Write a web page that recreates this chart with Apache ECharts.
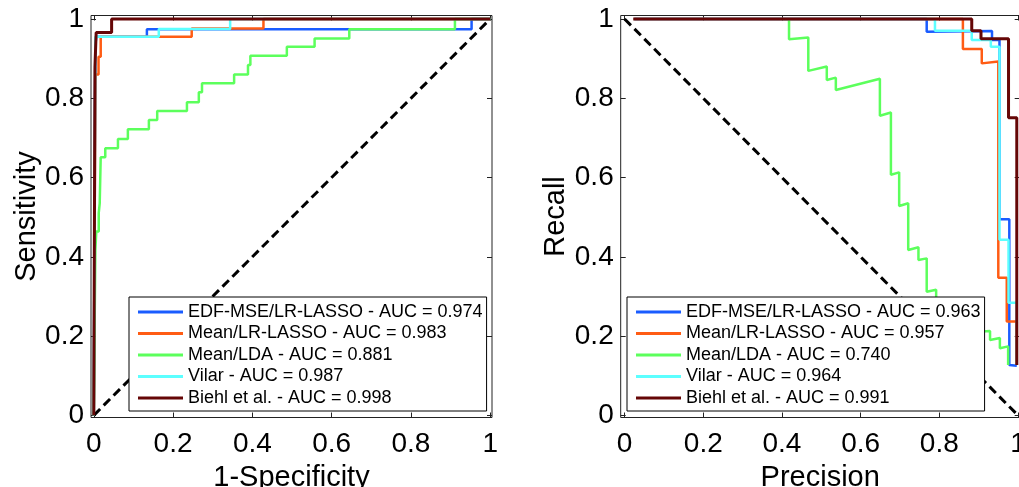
<!DOCTYPE html>
<html>
<head>
<meta charset="utf-8">
<script src="https://cdn.jsdelivr.net/npm/echarts@6/dist/echarts.min.js"></script>
<style>
  html, body { margin: 0; padding: 0; background: #fff; }
  #chart { width: 1019px; height: 487px; }
</style>
</head>
<body>
<div id="chart"></div>
<script>
// method names and AUCs
const methods = ["EDF-MSE/LR-LASSO", "Mean/LR-LASSO", "Mean/LDA", "Vilar", "Biehl et al."];
const rocAuc = ["0.974", "0.983", "0.881", "0.987", "0.998"];
const prAuc = ["0.963", "0.957", "0.740", "0.964", "0.991"];
const colors = ["#1a5cff", "#ff5c14", "#5cff5c", "#5cffff", "#650606"];

const tickValues = [0, 0.2, 0.4, 0.6, 0.8, 1];

// ROC curves: [1-specificity, sensitivity]
const rocEdf = [[0, 0], [0.003, 0], [0.003, 0.78], [0.004, 0.78], [0.004, 0.93], [0.006, 0.93], [0.006, 0.955],
  [0.134, 0.955], [0.134, 0.974], [0.953, 0.974], [0.953, 1], [1, 1]];
const rocMean = [[0, 0], [0.004, 0], [0.004, 0.86], [0.012, 0.86], [0.012, 0.905], [0.0175, 0.905], [0.0175, 0.955],
  [0.247, 0.955], [0.247, 0.976], [0.428, 0.976], [0.428, 1], [1, 1]];
const rocLda = [[0, 0], [0.004, 0], [0.004, 0.417], [0.0064, 0.417], [0.0064, 0.464], [0.0125, 0.464], [0.0125, 0.51],
  [0.015, 0.51], [0.015, 0.535], [0.0175, 0.535], [0.0175, 0.651], [0.029, 0.651], [0.029, 0.674], [0.061, 0.674],
  [0.061, 0.697], [0.086, 0.697], [0.086, 0.722], [0.139, 0.722], [0.139, 0.745], [0.16, 0.745], [0.16, 0.768],
  [0.235, 0.768], [0.235, 0.79], [0.265, 0.79], [0.265, 0.815], [0.273, 0.815], [0.273, 0.838], [0.354, 0.838],
  [0.354, 0.86], [0.389, 0.86], [0.389, 0.884], [0.395, 0.884], [0.395, 0.907], [0.487, 0.907], [0.487, 0.93],
  [0.557, 0.93], [0.557, 0.951], [0.6445, 0.951], [0.6445, 0.974], [0.911, 0.974], [0.911, 1], [1, 1]];
const rocVilar = [[0, 0], [0.004, 0], [0.004, 0.955], [0.164, 0.955], [0.164, 0.975], [0.344, 0.975], [0.344, 1], [1, 1]];
const rocBiehl = [[0, 0], [0.003, 0], [0.003, 0.88], [0.006, 0.88], [0.006, 0.966], [0.045, 0.966], [0.045, 1], [1, 1]];

// PR curves: [precision, recall]
const prEdf = [[0.025, 1], [0.768, 1], [0.768, 0.968], [0.934, 0.97], [0.934, 0.947], [0.953, 0.947], [0.953, 0.495],
  [0.978, 0.495], [0.978, 0.127], [0.997, 0.125]];
const prMean = [[0.025, 1], [0.86, 1], [0.86, 0.924], [0.908, 0.924], [0.908, 0.888], [0.95, 0.893], [0.95, 0.347],
  [0.9715, 0.347], [0.9715, 0.237], [0.997, 0.237], [0.997, 0.127]];
const prLda = [[0.418, 1], [0.418, 0.949], [0.467, 0.953], [0.467, 0.869], [0.514, 0.88], [0.514, 0.846],
  [0.537, 0.852], [0.537, 0.821], [0.649, 0.849], [0.649, 0.756], [0.677, 0.764], [0.677, 0.607], [0.698, 0.613],
  [0.698, 0.528], [0.721, 0.535], [0.721, 0.417], [0.747, 0.424], [0.747, 0.392], [0.768, 0.396], [0.768, 0.312],
  [0.792, 0.317], [0.792, 0.266], [0.815, 0.272], [0.815, 0.245], [0.86, 0.252], [0.86, 0.225], [0.9, 0.232],
  [0.9, 0.211], [0.929, 0.213], [0.929, 0.19], [0.954, 0.195], [0.954, 0.169], [0.975, 0.174], [0.975, 0.127]];
const prVilar = [[0.025, 1], [0.789, 1], [0.789, 0.9705], [0.8825, 0.9705], [0.8825, 0.947], [0.931, 0.947],
  [0.931, 0.93], [0.953, 0.93], [0.953, 0.443], [0.976, 0.443], [0.976, 0.284], [0.997, 0.284], [0.997, 0.127]];
const prBiehl = [[0.022, 1], [0.8825, 1], [0.8825, 0.9705], [0.906, 0.9705], [0.906, 0.95], [0.976, 0.95],
  [0.976, 0.751], [0.997, 0.751], [0.997, 0.127]];

const rocDiag = [[0, 0], [1, 1]];
const prDiag = [[0, 1], [1, 0]];

const rocCurves = [rocEdf, rocMean, rocLda, rocVilar, rocBiehl];
const prCurves = [prEdf, prMean, prLda, prVilar, prBiehl];

const font = "'Liberation Sans', Arial, Helvetica, sans-serif";

function valueAxis(gridIndex, position, min, max, name, nameGap, showLabel) {
  return {
    type: "value",
    gridIndex: gridIndex,
    position: position,
    min: min,
    max: max,
    name: name,
    nameLocation: "middle",
    nameGap: nameGap,
    nameTextStyle: { fontSize: 29, color: "#000", fontFamily: font },
    axisLine: { show: false, onZero: false },
    axisTick: { show: true, inside: true, length: 5, lineStyle: { color: "#222", width: 1 }, customValues: tickValues },
    axisLabel: {
      show: showLabel,
      customValues: tickValues,
      margin: position === "bottom" ? 13 : 7,
      fontSize: 28,
      color: "#000",
      fontFamily: font
    },
    splitLine: { show: false }
  };
}

const series = [];
const rocNames = [];
const prNames = [];
for (let i = 0; i < methods.length; i++) {
  const rn = methods[i] + " - AUC = " + rocAuc[i];
  rocNames.push(rn);
  series.push({
    name: rn, type: "line", xAxisIndex: 0, yAxisIndex: 0, data: rocCurves[i],
    showSymbol: false, color: colors[i], lineStyle: { width: i === 4 ? 3 : 2.5 }, z: 3 + i
  });
}
for (let i = 0; i < methods.length; i++) {
  const pn = methods[i] + " - AUC = " + prAuc[i];
  prNames.push(pn);
  series.push({
    name: pn, type: "line", xAxisIndex: 2, yAxisIndex: 2, data: prCurves[i],
    showSymbol: false, color: colors[i], lineStyle: { width: i === 4 ? 3 : 2.5 }, z: 3 + i
  });
}
series.push({ type: "line", xAxisIndex: 0, yAxisIndex: 0, data: rocDiag, showSymbol: false, silent: true,
  lineStyle: { color: "#000", width: 3, type: [9, 5] }, z: 2 });
series.push({ type: "line", xAxisIndex: 2, yAxisIndex: 2, data: prDiag, showSymbol: false, silent: true,
  lineStyle: { color: "#000", width: 3, type: [9, 5] }, z: 2 });

function legendFor(left, names) {
  return {
    left: left, top: 297, orient: "vertical", icon: "rect", z: 20,
    itemWidth: 45, itemHeight: 3, itemGap: 3.5, padding: [6, 4, 4, 9],
    borderColor: "#000", borderWidth: 1, backgroundColor: "#fff",
    selectedMode: false,
    textStyle: { fontSize: 18, color: "#000", fontFamily: font },
    data: names
  };
}

const chart = echarts.init(document.getElementById("chart"));
chart.setOption({
  animation: false,
  backgroundColor: "#fff",
  grid: [
    { left: 91, top: 15.5, width: 401, height: 402, outerBoundsMode: "none", containLabel: false,
      show: true, borderColor: "#222", borderWidth: 1, backgroundColor: "transparent" },
    { left: 620.7, top: 15.5, width: 399, height: 402, outerBoundsMode: "none", containLabel: false,
      show: true, borderColor: "#222", borderWidth: 1, backgroundColor: "transparent" }
  ],
  xAxis: [
    valueAxis(0, "bottom", -0.007, 1.0045, "1-Specificity", 42, true),
    valueAxis(0, "top", -0.007, 1.0045, "", 0, false),
    valueAxis(1, "bottom", -0.0099, 1.0044, "Precision", 42, true),
    valueAxis(1, "top", -0.0099, 1.0044, "", 0, false)
  ],
  yAxis: [
    valueAxis(0, "left", -0.0055, 1.0088, "Sensitivity", 50, true),
    valueAxis(0, "right", -0.0055, 1.0088, "", 0, false),
    valueAxis(1, "left", -0.0055, 1.0088, "Recall", 50, true),
    valueAxis(1, "right", -0.0055, 1.0088, "", 0, false)
  ],
  legend: [legendFor(129, rocNames), legendFor(627, prNames)],
  series: series
});
</script>
</body>
</html>
